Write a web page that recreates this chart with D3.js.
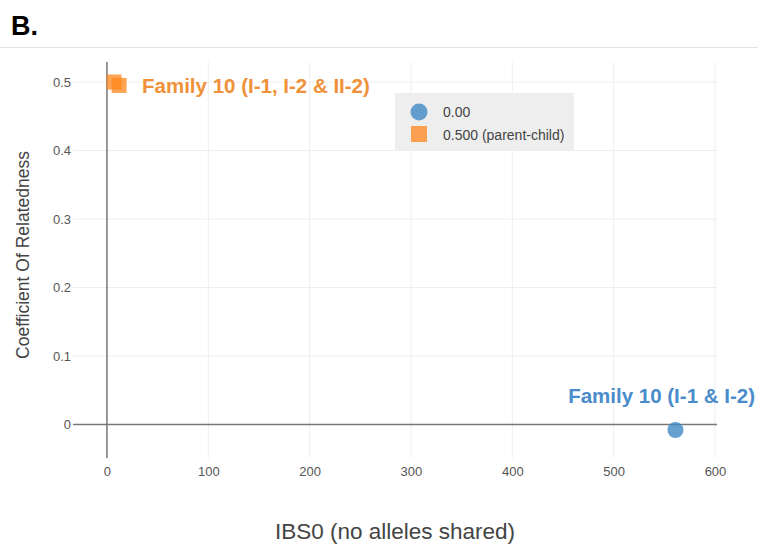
<!DOCTYPE html>
<html>
<head>
<meta charset="utf-8">
<script src="https://cdn.jsdelivr.net/npm/d3@7"></script>
<style>
  html, body { margin: 0; padding: 0; background: #fff; }
  svg { display: block; font-family: "Liberation Sans", Arial, Helvetica, sans-serif; }
</style>
</head>
<body>
<svg id="chart" width="758" height="548"></svg>
<script>
// Pairwise relatedness: IBS0 vs coefficient of relatedness
const seriesNames = ["0.00", "0.500 (parent-child)"];
const unrelatedIBS0 = [561];
const unrelatedCoef = [-0.008];
const parentChildIBS0 = [7, 12];
const parentChildCoef = [0.5, 0.495];
const xTicks = [0, 100, 200, 300, 400, 500, 600];
const yTicks = [0, 0.1, 0.2, 0.3, 0.4, 0.5];
const annotations = [
  { text: "Family 10 (I-1, I-2 & II-2)", series: 1 },
  { text: "Family 10 (I-1 & I-2)", series: 0 }
];

const colors = ["#3f88c5", "#ff851b"];
const labelColors = ["#4a8ccb", "#f0913a"];

const svg = d3.select("#chart");
const plot = { left: 73, right: 717, top: 62, bottom: 458 };

const x = d3.scaleLinear().domain([-33.5, 602]).range([plot.left, plot.right]);
const y = d3.scaleLinear().domain([-0.0489, 0.5292]).range([plot.bottom, plot.top]);

// Panel letter and divider
svg.append("text").attr("x", 11).attr("y", 35)
  .attr("font-size", 27).attr("font-weight", "bold").attr("fill", "#000").text("B.");
svg.append("line").attr("x1", 0).attr("x2", 758).attr("y1", 47.5).attr("y2", 47.5)
  .attr("stroke", "#e2e2e2").attr("stroke-width", 1);

// Gridlines
const grid = svg.append("g");
grid.selectAll(".gx").data(xTicks.filter(d => d !== 0)).join("line")
  .attr("x1", d => x(d)).attr("x2", d => x(d))
  .attr("y1", plot.top).attr("y2", plot.bottom)
  .attr("stroke", "#eeeeee").attr("stroke-width", 1);
grid.selectAll(".gy").data(yTicks.filter(d => d !== 0)).join("line")
  .attr("x1", plot.left).attr("x2", plot.right)
  .attr("y1", d => y(d)).attr("y2", d => y(d))
  .attr("stroke", "#eeeeee").attr("stroke-width", 1);

// Zero lines
svg.append("line").attr("x1", plot.left).attr("x2", plot.right)
  .attr("y1", y(0)).attr("y2", y(0)).attr("stroke", "#777").attr("stroke-width", 1.5);
svg.append("line").attr("x1", x(0)).attr("x2", x(0))
  .attr("y1", plot.top).attr("y2", plot.bottom).attr("stroke", "#777").attr("stroke-width", 1.5);

// Axes (labels only, lines drawn above)
const xAxis = d3.axisBottom(x).tickValues(xTicks).tickSize(0).tickPadding(0).tickFormat(d3.format("d"));
const gx = svg.append("g").attr("transform", `translate(0,${plot.bottom + 9})`).call(xAxis);
gx.select(".domain").remove();
gx.selectAll("text").attr("font-size", 13).attr("fill", "#555")
  .attr("font-family", "Liberation Sans, Arial, sans-serif");

const yAxis = d3.axisLeft(y).tickValues(yTicks).tickSize(0).tickPadding(0)
  .tickFormat(d => d === 0 ? "0" : d3.format(".1f")(d));
const gy = svg.append("g").attr("transform", `translate(${plot.left - 2},0)`).call(yAxis);
gy.select(".domain").remove();
gy.selectAll("text").attr("font-size", 13).attr("fill", "#555")
  .attr("font-family", "Liberation Sans, Arial, sans-serif");

// Axis titles
svg.append("text").attr("transform", "translate(29,255) rotate(-90)")
  .attr("text-anchor", "middle").attr("font-size", 17.5).attr("fill", "#444")
  .text("Coefficient Of Relatedness");
svg.append("text").attr("x", 395).attr("y", 539)
  .attr("text-anchor", "middle").attr("font-size", 22.5).attr("fill", "#444")
  .text("IBS0 (no alleles shared)");

// Markers
const unrelated = unrelatedIBS0.map((v, i) => ({ x: v, y: unrelatedCoef[i] }));
const parentChild = parentChildIBS0.map((v, i) => ({ x: v, y: parentChildCoef[i] }));

svg.append("g").selectAll("circle").data(unrelated).join("circle")
  .attr("cx", d => x(d.x)).attr("cy", d => y(d.y)).attr("r", 8)
  .attr("fill", colors[0]).attr("fill-opacity", 0.8);

const sq = 15;
svg.append("g").selectAll("rect").data(parentChild).join("rect")
  .attr("x", d => x(d.x) - sq / 2).attr("y", d => y(d.y) - sq / 2)
  .attr("width", sq).attr("height", sq)
  .attr("fill", colors[1]).attr("fill-opacity", 0.75);

// Point annotations
svg.append("text").attr("x", 142).attr("y", 93)
  .attr("font-size", 20.5).attr("font-weight", "bold").attr("fill", labelColors[1])
  .text(annotations[0].text);
svg.append("text").attr("x", 755).attr("y", 403).attr("text-anchor", "end")
  .attr("font-size", 20.5).attr("font-weight", "bold").attr("fill", labelColors[0])
  .text(annotations[1].text);

// Legend
const legend = svg.append("g").attr("transform", "translate(395,93)");
legend.append("rect").attr("width", 179).attr("height", 58).attr("fill", "#eeeeee");
legend.append("circle").attr("cx", 24).attr("cy", 19).attr("r", 8.5)
  .attr("fill", colors[0]).attr("fill-opacity", 0.8);
legend.append("rect").attr("x", 16).attr("y", 33).attr("width", 16).attr("height", 16)
  .attr("fill", colors[1]).attr("fill-opacity", 0.75);
legend.selectAll(".lt").data(seriesNames).join("text")
  .attr("x", 48).attr("y", (d, i) => 24 + i * 23)
  .attr("font-size", 14).attr("fill", "#444").text(d => d);
</script>
</body>
</html>
